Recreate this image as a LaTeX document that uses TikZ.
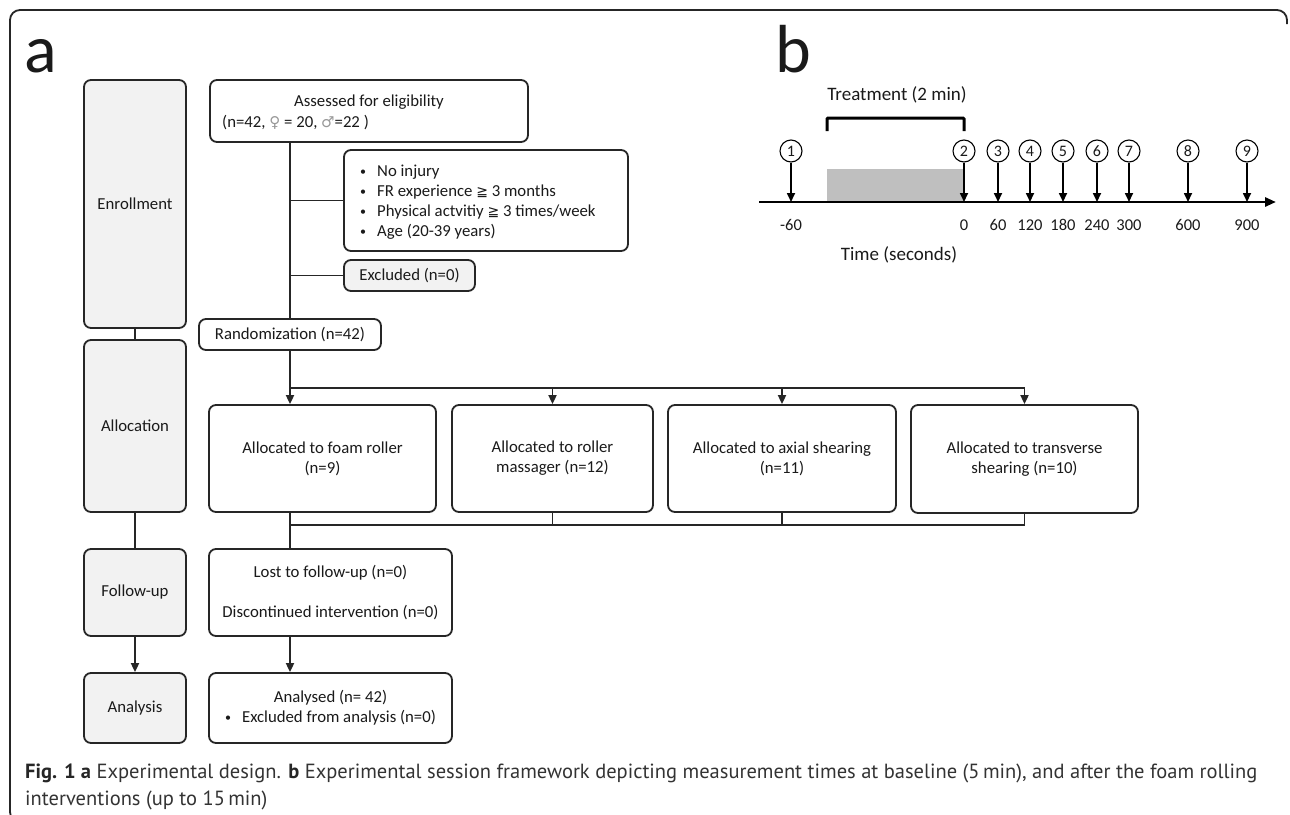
\documentclass[tikz,border=0pt]{standalone}
\usepackage{fontspec}
\setmainfont{Carlito}
\newfontfamily\symf{DejaVu Sans}
\newfontfamily\capf{PT Sans}
\usetikzlibrary{arrows.meta,calc}
\definecolor{boxgray}{HTML}{F2F2F2}
\definecolor{linec}{HTML}{262626}
\definecolor{tgray}{HTML}{BFBFBF}
\definecolor{capc}{HTML}{333333}
\definecolor{txt}{HTML}{1A1A1A}
\newcommand{\smbul}{\makebox[17pt][l]{\raisebox{1pt}{\fontsize{12}{12}\selectfont •}}}
\begin{document}
\begin{tikzpicture}[x=1pt,y=-1pt,
  font=\fontsize{16.75}{20}\selectfont,
  every node/.style={text=txt},
  fbox/.style={draw=linec, line width=1.8pt, rounded corners=7pt, inner sep=0pt, align=center},
  stagebox/.style={fbox, fill=boxgray},
  conn/.style={draw=linec, line width=1.8pt},
  arr/.style={conn, -{Triangle[length=9pt,width=8pt]}},
  tarr/.style={draw=black, line width=1.7pt, -{Triangle[length=9pt,width=8pt]}},
  circ/.style={circle, draw=black, line width=1.1pt, minimum size=22pt, inner sep=0pt, font=\fontsize{16}{16}\selectfont},
  tick/.style={inner sep=0pt, anchor=base, font=\fontsize{16.5}{18}\selectfont},
  plain/.style={inner sep=0pt}
]
\useasboundingbox (0,0) rectangle (1290,814);
\fill[white] (0,0) rectangle (1290,814);

% outer frame
\draw[line width=1.8pt, draw=linec, rounded corners=10pt] (22,822) -- (10,822) -- (10,10) -- (1287,10) -- (1287,24);

% panel letters
\node[plain, anchor=base west, font=\fontsize{68}{68}\selectfont] (la) at (24,72) {a};
\node[plain, anchor=base west, font=\fontsize{68}{68}\selectfont] (lb) at (775,72) {b};

% ---------- stage column ----------
\node[stagebox, minimum width=102, minimum height=248] (enr) at (135,204) {Enrollment};
\node[stagebox, minimum width=102, minimum height=172] (alo) at (135,426) {Allocation};
\node[stagebox, minimum width=102, minimum height=87] (fol) at (135,592.5) {Follow-up};
\node[stagebox, minimum width=102, minimum height=70] (ana) at (135,708) {Analysis};
\draw[conn] (enr.south) -- (alo.north);
\draw[conn] (alo.south) -- (fol.north);
\draw[arr] (fol.south) -- (ana.north);

% ---------- main column ----------
\node[fbox, minimum width=318, minimum height=62] (ass) at (369,111) {};
\node[plain, anchor=base] (ass1) at (369,106.5) {Assessed for eligibility};
\node[plain, anchor=base west] (ass2) at (222,127.5) {(n=42, {\symf\color{gray!80}\fontsize{15}{15}\selectfont ♀} = 20, {\symf\color{gray!80}\fontsize{15}{15}\selectfont ♂}=22 )};

\node[fbox, minimum width=284, minimum height=101] (cri) at (486,200.5) {};
\node[plain, anchor=base west] (critext) at (360,176.5) {\begin{tabular}[t]{@{}l@{}}
\smbul No injury\\
\smbul FR experience {\symf\fontsize{14}{14}\selectfont ≧} 3 months\\
\smbul Physical actvitiy {\symf\fontsize{14}{14}\selectfont ≧} 3 times/week\\
\smbul Age (20-39 years)
\end{tabular}};

\node[fbox, fill=boxgray, minimum width=131, minimum height=31] (exc) at (409.5,275.5) {Excluded (n=0)};
\node[fbox, minimum width=182, minimum height=31] (ran) at (290,334.5) {Randomization (n=42)};

\draw[conn] (ran.north |- ass.south) -- (ran.north);
\draw[conn] (ran.north |- cri.west) -- (cri.west);
\draw[conn] (ran.north |- exc.west) -- (exc.west);

\node[fbox, minimum width=227, minimum height=107] (foam) at (322.5,458.5) {Allocated to foam roller\\(n=9)};
\node[fbox, minimum width=201, minimum height=107] (mass) at (552.5,458.5) {Allocated to roller\\massager (n=12)};
\node[fbox, minimum width=228, minimum height=107] (axi) at (782,458.5) {Allocated to axial shearing\\(n=11)};
\node[fbox, minimum width=227, minimum height=108] (tra) at (1024.5,459) {Allocated to transverse\\shearing (n=10)};

\coordinate (split) at (290,388);
\coordinate (merge) at (290,525);
\draw[conn] (ran.south) -- (split);
\draw[arr] (split) -- (split |- foam.north);
\draw[conn] (split) -- (tra.north |- split);
\draw[arr] (mass.north |- split) -- (mass.north);
\draw[arr] (axi.north |- split) -- (axi.north);
\draw[arr] (tra.north |- split) -- (tra.north);

\draw[conn] (merge |- foam.south) -- (merge);
\draw[conn] (mass.south) -- (mass.south |- merge);
\draw[conn] (axi.south) -- (axi.south |- merge);
\draw[conn] (tra.south) -- (tra.south |- merge);
\draw[conn] (merge) -- (tra.south |- merge);

\node[fbox, minimum width=243, minimum height=87] (lost) at (330.5,592.5) {Lost to follow-up (n=0)\\[20pt]Discontinued intervention (n=0)};
\node[fbox, minimum width=243, minimum height=70] (anl) at (330.5,708) {Analysed (n= 42)\\\smbul Excluded from analysis (n=0)};
\draw[conn] (merge) -- (merge |- lost.north);
\draw[arr] (merge |- lost.south) -- (merge |- anl.north);

% ---------- timeline (b) ----------
\fill[tgray] (827,169) rectangle (964,202);
\draw[line width=3pt, rounded corners=1pt] (827,131) -- (827,118) -- (964,118) -- (964,131);
\node[plain, font=\fontsize{19}{20}\selectfont] (treat) at (897,95) {Treatment (2 min)};

\coordinate (axL) at (759,202);
\coordinate (axR) at (1276,202);
\draw[line width=2.8pt, -{Triangle[length=11pt,width=9pt]}] (axL) -- (axR);

\foreach \i/\x/\t in {1/791/-60, 2/964/0, 3/998/60, 4/1030/120, 5/1063/180, 6/1097/240, 7/1129/300, 8/1188/600, 9/1247/900}{
  \node[circ] (c\i) at (\x,151) {\i};
  \draw[tarr] (c\i.south) -- (c\i.south |- axL);
  \node[tick] (t\i) at (\x,230) {\t};
}
\node[plain, font=\fontsize{19}{20}\selectfont] (timel) at (899,255) {Time (seconds)};

% ---------- caption ----------
\node[plain, anchor=base west, font=\capf\fontsize{20.5}{27}\selectfont, text=capc] (cap1) at (25,778) {\textbf{\color{black!85}Fig. 1 a} Experimental design. \textbf{\color{black!85}b} Experimental session framework depicting measurement times at baseline (5\,min), and after the foam rolling};
\node[plain, anchor=base west, font=\capf\fontsize{20.5}{27}\selectfont, text=capc] (cap2) at (25,805) {interventions (up to 15\,min)};
\end{tikzpicture}
\end{document}
